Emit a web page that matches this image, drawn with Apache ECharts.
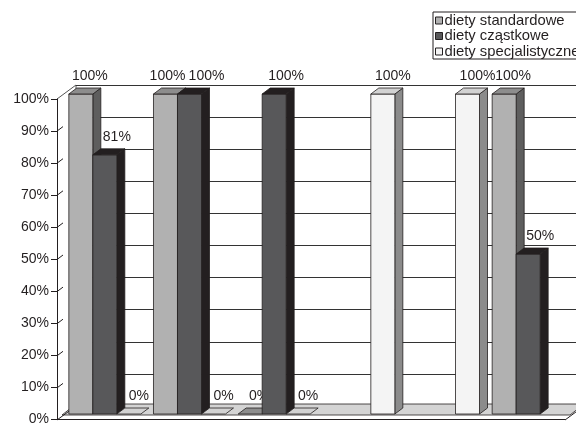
<!DOCTYPE html>
<html>
<head>
<meta charset="utf-8">
<script src="https://cdn.jsdelivr.net/npm/echarts@6/dist/echarts.min.js"></script>
<style>
  html, body { margin: 0; padding: 0; background: #fff; }
  #chart { width: 576px; height: 426px; }
</style>
</head>
<body>
<div id="chart"></div>
<script>
// dane
var categories = ['I', 'II', 'III', 'IV', 'V', 'VI'];
var seriesNames = ['diety standardowe', 'diety cząstkowe', 'diety specjalistyczne'];
var standardowe = [100, 100, 0, null, null, 100];
var czastkowe = [81, 100, 100, null, null, 50];
var specjalistyczne = [0, 0, 0, 100, 100, null];
var yTicks = [0, 10, 20, 30, 40, 50, 60, 70, 80, 90, 100];

var allValues = [standardowe, czastkowe, specjalistyczne];

// wyglad
var FONT = 'Liberation Sans, Arial, sans-serif';
var EDGE = '#231f20';
var G = { left: 57, right: 565, top: 99, bottom: 420 };   // front plane of the axes
var WALL = { dx: 19, dy: -14 };                            // depth of the back wall
var BAR = { ratio: 0.2835, ox: 5.5, oy: -5, dx: 8, dy: -6 };
var LABEL_DX = [9, 12, 10];
var styles = [
    { front: '#b1b1b1', top: '#8d8d8d', side: '#5e5e5e' },
    { front: '#58585a', top: '#231f20', side: '#231f20' },
    { front: '#f4f4f4', top: '#d2d2d2', side: '#8b8b8b' }
];

function toData(arr) {
    var out = [];
    arr.forEach(function(v, i) {
        if (v !== null) out.push([i, v]);
    });
    return out;
}

function labelShift(si, ci) {
    var v = allValues[si][ci];
    if (si < 2 && allValues[si + 1][ci] === v) return -7;
    if (si > 0 && allValues[si - 1][ci] === v) return 5;
    return 0;
}

function makeRender(si) {
    return function(params, api) {
        var ci = api.value(0), v = api.value(1);
        var p = api.coord([ci, v]);
        var b = api.coord([ci, 0]);
        var bw = api.size([1, 0])[0] * BAR.ratio;
        var x0 = p[0] + (si - 1.5) * bw + BAR.ox;
        var top = p[1] + BAR.oy, bot = b[1] + BAR.oy;
        var st = styles[si];
        var line = { stroke: EDGE, lineWidth: 0.8 };
        var kids = [];
        if (v > 0) {
            kids.push({
                type: 'polygon',
                shape: { points: [[x0 + bw, top], [x0 + bw + BAR.dx, top + BAR.dy], [x0 + bw + BAR.dx, bot + BAR.dy], [x0 + bw, bot]] },
                style: Object.assign({ fill: st.side }, line)
            });
            kids.push({
                type: 'rect',
                shape: { x: x0, y: top, width: bw, height: bot - top },
                style: Object.assign({ fill: st.front }, line)
            });
        }
        kids.push({
            type: 'polygon',
            shape: { points: [[x0, top], [x0 + bw, top], [x0 + bw + BAR.dx, top + BAR.dy], [x0 + BAR.dx, top + BAR.dy]] },
            style: Object.assign({ fill: st.top }, line)
        });
        kids.push({
            type: 'text',
            x: x0 + bw / 2 + LABEL_DX[si] + labelShift(si, ci),
            y: top - 18,
            style: {
                text: v + '%', fill: '#231f20', fontSize: 14, fontFamily: FONT,
                align: 'center', verticalAlign: 'middle'
            }
        });
        return { type: 'group', children: kids };
    };
}

// sciany, podloga, kreski na osi Y
var scaleY = (G.bottom - G.top) / 100;
var graphics = [
    { type: 'polygon', z: 1, shape: { points: [[62, 415], [570, 415], [584, 404], [76, 404]] },
      style: { fill: '#d4d4d4', stroke: EDGE, lineWidth: 0.8 } },
    { type: 'line', z: 1, shape: { x1: G.left, y1: G.bottom, x2: G.left + WALL.dx, y2: G.bottom + WALL.dy },
      style: { stroke: EDGE, lineWidth: 1 } },
    { type: 'line', z: 1, shape: { x1: G.right, y1: G.bottom, x2: G.right + WALL.dx, y2: G.bottom + WALL.dy },
      style: { stroke: EDGE, lineWidth: 1 } },
    { type: 'line', z: 0, shape: { x1: G.left, y1: G.top, x2: G.left + WALL.dx, y2: G.top + WALL.dy },
      style: { stroke: '#555', lineWidth: 1 } },
    { type: 'line', z: 0, shape: { x1: G.left + WALL.dx, y1: G.top + WALL.dy, x2: G.left + WALL.dx, y2: G.bottom + WALL.dy },
      style: { stroke: '#555', lineWidth: 1 } }
];
yTicks.forEach(function(t) {
    if (t === 0 || t === 100) return;
    var y = G.bottom - t * scaleY;
    graphics.push({ type: 'line', z: 0, shape: { x1: G.left, y1: y, x2: G.left + 6, y2: y - 4.5 },
        style: { stroke: EDGE, lineWidth: 1 } });
});

var myChart = echarts.init(document.getElementById('chart'), null, { renderer: 'canvas' });

myChart.setOption({
    animation: false,
    backgroundColor: '#fff',
    textStyle: { fontFamily: FONT },
    legend: {
        data: seriesNames,
        orient: 'vertical',
        left: 433,
        top: 12,
        padding: [1, 4, 0, 2],
        itemGap: 0.5,
        itemWidth: 7,
        itemHeight: 7,
        icon: 'rect',
        borderColor: EDGE,
        borderWidth: 1,
        backgroundColor: '#fff',
        itemStyle: { borderColor: EDGE, borderWidth: 1 },
        textStyle: { fontSize: 14.8, color: '#231f20', fontFamily: FONT, lineHeight: 15, padding: [0, 0, 0, -3] }
    },
    grid: [
        { left: G.left, top: G.top, width: G.right - G.left, height: G.bottom - G.top },
        { left: G.left + WALL.dx, top: G.top + WALL.dy, width: G.right - G.left, height: G.bottom - G.top }
    ],
    xAxis: [
        {
            type: 'category', gridIndex: 0, data: categories,
            axisLine: { lineStyle: { color: EDGE, width: 1 } },
            axisTick: { length: 4, lineStyle: { color: EDGE } },
            axisLabel: { show: false }
        },
        { type: 'category', gridIndex: 1, data: categories, show: false }
    ],
    yAxis: [
        {
            type: 'value', gridIndex: 0, min: 0, max: 100, interval: 10,
            axisLine: { show: true, lineStyle: { color: EDGE, width: 1 } },
            axisTick: { show: true, length: 6, lineStyle: { color: EDGE } },
            axisLabel: { formatter: '{value}%', fontSize: 14, color: '#231f20', margin: 8, fontFamily: FONT },
            splitLine: { show: false }
        },
        {
            type: 'value', gridIndex: 1, min: 0, max: 100, interval: 10,
            axisLine: { show: false }, axisTick: { show: false }, axisLabel: { show: false },
            splitLine: { lineStyle: { color: '#333', width: 1 } }
        }
    ],
    graphic: graphics,
    series: [
        { name: seriesNames[0], type: 'custom', xAxisIndex: 0, yAxisIndex: 0, z: 3,
          itemStyle: { color: styles[0].front }, renderItem: makeRender(0), data: toData(standardowe) },
        { name: seriesNames[1], type: 'custom', xAxisIndex: 0, yAxisIndex: 0, z: 3,
          itemStyle: { color: styles[1].front }, renderItem: makeRender(1), data: toData(czastkowe) },
        { name: seriesNames[2], type: 'custom', xAxisIndex: 0, yAxisIndex: 0, z: 3,
          itemStyle: { color: styles[2].front }, renderItem: makeRender(2), data: toData(specjalistyczne) }
    ]
});
</script>
</body>
</html>
